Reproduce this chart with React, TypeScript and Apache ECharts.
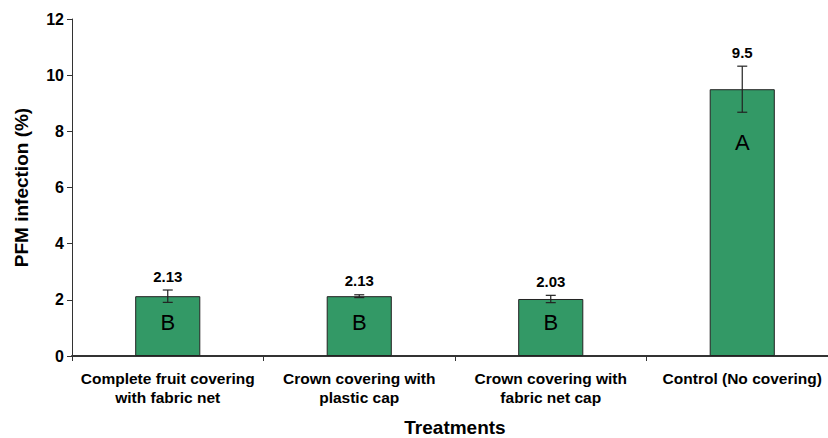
import React, { useEffect, useRef } from "react";
import * as echarts from "echarts";

const categories = [
  "Complete fruit covering\nwith fabric net",
  "Crown covering with\nplastic cap",
  "Crown covering with\nfabric net cap",
  "Control (No covering)",
];
const means = [2.13, 2.13, 2.03, 9.5];
const errors = [0.22, 0.05, 0.13, 0.82];
const letters = ["B", "B", "B", "A"];
const letterY = [1.2, 1.2, 1.2, 7.6];
const yTicks = [0, 2, 4, 6, 8, 10, 12];

const FONT = "'Liberation Sans', Arial, sans-serif";

export default function App() {
  const ref = useRef<HTMLDivElement>(null);
  useEffect(() => {
    if (!ref.current) return;
    const chart = echarts.init(ref.current, null, { renderer: "svg" });
    chart.setOption({
      animation: false,
      grid: { left: 72, top: 19, bottom: 82, width: 766, outerBoundsMode: "none", containLabel: false },
      xAxis: {
        type: "category",
        data: categories,
        name: "Treatments",
        nameLocation: "middle",
        nameGap: 62,
        nameTextStyle: { fontFamily: FONT, fontWeight: "bold", fontSize: 19, color: "#000" },
        axisLine: { lineStyle: { color: "#333", width: 2 } },
        axisTick: { show: true, length: 5, lineStyle: { color: "#333" } },
        axisLabel: {
          fontFamily: FONT,
          fontWeight: "bold",
          fontSize: 15.5,
          color: "#000",
          margin: 13,
          lineHeight: 19,
          interval: 0,
        },
      },
      yAxis: {
        type: "value",
        min: 0,
        max: 12,
        interval: 2,
        name: "PFM infection (%)",
        nameLocation: "middle",
        nameGap: 41,
        nameTextStyle: { fontFamily: FONT, fontWeight: "bold", fontSize: 19, color: "#000" },
        splitLine: { show: false },
        axisLine: { show: true, lineStyle: { color: "#333", width: 1 } },
        axisTick: { show: true, length: 5, lineStyle: { color: "#333" } },
        axisLabel: {
          fontFamily: FONT,
          fontWeight: "bold",
          fontSize: 16,
          color: "#000",
          margin: 8,
          formatter: (v: number) => (yTicks.includes(v) ? String(v) : ""),
        },
      },
      series: [
        {
          type: "bar",
          data: means,
          barWidth: "34%",
          itemStyle: { color: "#339966", borderColor: "#222", borderWidth: 1 },
        },
        {
          type: "custom",
          data: means.map((m, i) => [i, m, errors[i]]),
          z: 10,
          renderItem: (params: any, api: any) => {
            const i = api.value(0);
            const m = api.value(1);
            const e = api.value(2);
            const top = api.coord([i, m + e]);
            const bot = api.coord([i, m - e]);
            const cap = 5;
            const style = { stroke: "#222", lineWidth: 1.2 };
            return {
              type: "group",
              children: [
                { type: "line", shape: { x1: top[0], y1: top[1], x2: bot[0], y2: bot[1] }, style },
                { type: "line", shape: { x1: top[0] - cap, y1: top[1], x2: top[0] + cap, y2: top[1] }, style },
                { type: "line", shape: { x1: bot[0] - cap, y1: bot[1], x2: bot[0] + cap, y2: bot[1] }, style },
                {
                  type: "text",
                  x: top[0],
                  y: top[1] - 14,
                  style: {
                    text: String(means[i]),
                    align: "center",
                    verticalAlign: "middle",
                    font: `bold 15px ${FONT}`,
                    fill: "#000",
                  },
                },
              ],
            };
          },
        },
        {
          type: "custom",
          data: letterY.map((y, i) => [i, y]),
          z: 11,
          renderItem: (params: any, api: any) => {
            const i = api.value(0);
            const p = api.coord([i, api.value(1)]);
            return {
              type: "text",
              x: p[0],
              y: p[1],
              style: {
                text: letters[i],
                align: "center",
                verticalAlign: "middle",
                font: `22px ${FONT}`,
                fill: "#000",
              },
            };
          },
        },
      ],
    });
    return () => chart.dispose();
  }, []);
  return <div ref={ref} style={{ width: 828, height: 438, position: "absolute", left: 0, top: 0 }} />;
}
